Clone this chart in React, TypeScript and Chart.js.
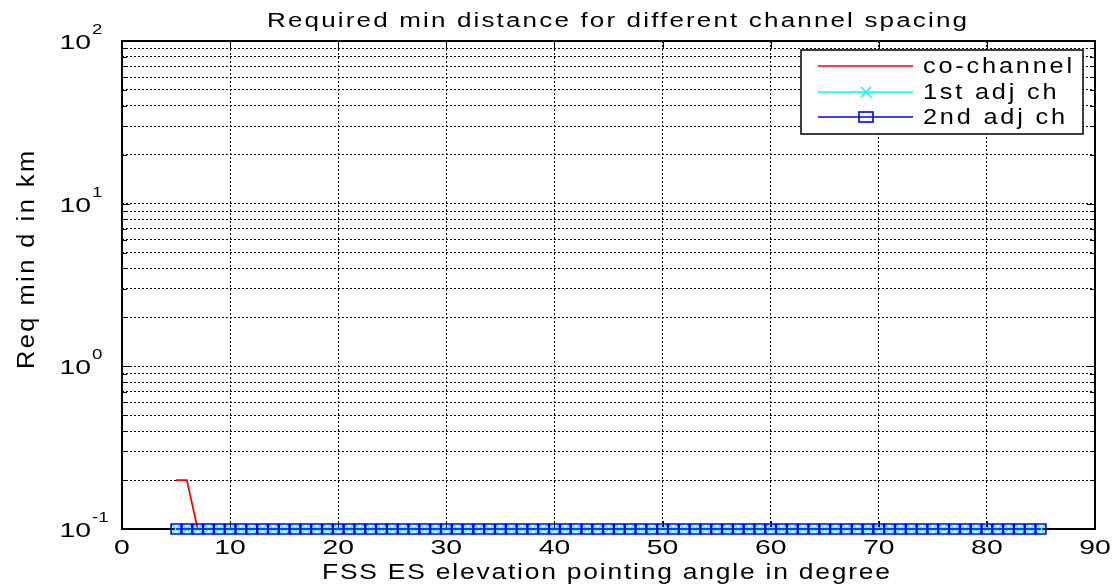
import React, { useEffect, useRef } from "react";
import { Chart, registerables } from "chart.js";

Chart.register(...registerables);

// ---------- data ----------
const elevationAngles = [
  5, 6, 7, 8, 9, 10, 11, 12, 13, 14, 15, 16, 17, 18, 19, 20, 21, 22, 23, 24,
  25, 26, 27, 28, 29, 30, 31, 32, 33, 34, 35, 36, 37, 38, 39, 40, 41, 42, 43, 44,
  45, 46, 47, 48, 49, 50, 51, 52, 53, 54, 55, 56, 57, 58, 59, 60, 61, 62, 63, 64,
  65, 66, 67, 68, 69, 70, 71, 72, 73, 74, 75, 76, 77, 78, 79, 80, 81, 82, 83, 84, 85,
];
const coChannel = [
  0.2, 0.2, 0.1, 0.1, 0.1, 0.1, 0.1, 0.1, 0.1, 0.1, 0.1, 0.1, 0.1, 0.1, 0.1, 0.1, 0.1, 0.1, 0.1, 0.1,
  0.1, 0.1, 0.1, 0.1, 0.1, 0.1, 0.1, 0.1, 0.1, 0.1, 0.1, 0.1, 0.1, 0.1, 0.1, 0.1, 0.1, 0.1, 0.1, 0.1,
  0.1, 0.1, 0.1, 0.1, 0.1, 0.1, 0.1, 0.1, 0.1, 0.1, 0.1, 0.1, 0.1, 0.1, 0.1, 0.1, 0.1, 0.1, 0.1, 0.1,
  0.1, 0.1, 0.1, 0.1, 0.1, 0.1, 0.1, 0.1, 0.1, 0.1, 0.1, 0.1, 0.1, 0.1, 0.1, 0.1, 0.1, 0.1, 0.1, 0.1, 0.1,
];
const firstAdjCh = [
  0.1, 0.1, 0.1, 0.1, 0.1, 0.1, 0.1, 0.1, 0.1, 0.1, 0.1, 0.1, 0.1, 0.1, 0.1, 0.1, 0.1, 0.1, 0.1, 0.1,
  0.1, 0.1, 0.1, 0.1, 0.1, 0.1, 0.1, 0.1, 0.1, 0.1, 0.1, 0.1, 0.1, 0.1, 0.1, 0.1, 0.1, 0.1, 0.1, 0.1,
  0.1, 0.1, 0.1, 0.1, 0.1, 0.1, 0.1, 0.1, 0.1, 0.1, 0.1, 0.1, 0.1, 0.1, 0.1, 0.1, 0.1, 0.1, 0.1, 0.1,
  0.1, 0.1, 0.1, 0.1, 0.1, 0.1, 0.1, 0.1, 0.1, 0.1, 0.1, 0.1, 0.1, 0.1, 0.1, 0.1, 0.1, 0.1, 0.1, 0.1, 0.1,
];
const secondAdjCh = [
  0.1, 0.1, 0.1, 0.1, 0.1, 0.1, 0.1, 0.1, 0.1, 0.1, 0.1, 0.1, 0.1, 0.1, 0.1, 0.1, 0.1, 0.1, 0.1, 0.1,
  0.1, 0.1, 0.1, 0.1, 0.1, 0.1, 0.1, 0.1, 0.1, 0.1, 0.1, 0.1, 0.1, 0.1, 0.1, 0.1, 0.1, 0.1, 0.1, 0.1,
  0.1, 0.1, 0.1, 0.1, 0.1, 0.1, 0.1, 0.1, 0.1, 0.1, 0.1, 0.1, 0.1, 0.1, 0.1, 0.1, 0.1, 0.1, 0.1, 0.1,
  0.1, 0.1, 0.1, 0.1, 0.1, 0.1, 0.1, 0.1, 0.1, 0.1, 0.1, 0.1, 0.1, 0.1, 0.1, 0.1, 0.1, 0.1, 0.1, 0.1, 0.1,
];
const seriesLabels = ["co-channel", "1st adj ch", "2nd adj ch"];

const xTickValues = [0, 10, 20, 30, 40, 50, 60, 70, 80, 90];
const yMajorValues = [0.1, 1, 10, 100];
const yMajorExponents = ["-1", "0", "1", "2"];
const yMinorValues = [
  0.2, 0.3, 0.4, 0.5, 0.6, 0.7, 0.8, 0.9,
  2, 3, 4, 5, 6, 7, 8, 9,
  20, 30, 40, 50, 60, 70, 80, 90,
];

const titleText = "Required min distance for different channel spacing";
const xAxisTitle = "FSS ES elevation pointing angle in degree";
const yAxisTitle = "Req min d in km";

// ---------- styles ----------
const FONT = '"Liberation Sans", Arial, Helvetica, sans-serif';
const RED = "#ff0000";
const CYAN = "#00ffff";
const BLUE = "#0000ff";

function drawStyled(ctx: any, text: string, x: number, y: number, size: number, sx: number, spacing: number, align: string, baseline = "alphabetic") {
  ctx.save();
  ctx.font = `${size}px ${FONT}`;
  ctx.letterSpacing = "0px";
  const natural = ctx.measureText(text).width;
  const w = (natural + spacing * Math.max(text.length - 1, 0)) * sx;
  let left = x;
  if (align === "center") left = x - w / 2;
  else if (align === "right") left = x - w;
  ctx.letterSpacing = `${spacing}px`;
  ctx.textAlign = "left";
  ctx.textBaseline = baseline;
  ctx.translate(left, y);
  ctx.scale(sx, 1);
  ctx.fillStyle = "#000";
  ctx.fillText(text, 0, 0);
  ctx.restore();
}

function fitSpacing(ctx: any, text: string, size: number, sx: number, targetW: number) {
  ctx.save();
  ctx.font = `${size}px ${FONT}`;
  ctx.letterSpacing = "0px";
  const natural = ctx.measureText(text).width;
  ctx.restore();
  return text.length > 1 ? (targetW / sx - natural) / (text.length - 1) : 0;
}

function drawFitted(ctx: any, text: string, x: number, y: number, size: number, sx: number, targetW: number, align: string, baseline = "alphabetic") {
  const sp = fitSpacing(ctx, text, size, sx, targetW);
  drawStyled(ctx, text, x, y, size, sx, sp, align, baseline);
}

const framePlugin = {
  id: "matlabFrame",
  beforeDatasetsDraw(chart: any) {
    const { ctx, chartArea: a, scales } = chart;
    const x = scales.x;
    const y = scales.y;
    ctx.save();
    ctx.strokeStyle = "#000";
    ctx.lineWidth = 1;
    ctx.setLineDash([]);
    ctx.beginPath();
    xTickValues.forEach((v) => {
      const px = Math.round(x.getPixelForValue(v)) + 0.5;
      ctx.moveTo(px, a.bottom);
      ctx.lineTo(px, a.bottom - 8);
      ctx.moveTo(px, a.top);
      ctx.lineTo(px, a.top + 8);
    });
    yMajorValues.forEach((v) => {
      const py = Math.round(y.getPixelForValue(v)) + 0.5;
      ctx.moveTo(a.left, py);
      ctx.lineTo(a.left + 8, py);
      ctx.moveTo(a.right, py);
      ctx.lineTo(a.right - 8, py);
    });
    yMinorValues.forEach((v) => {
      const py = Math.round(y.getPixelForValue(v)) + 0.5;
      ctx.moveTo(a.left, py);
      ctx.lineTo(a.left + 5, py);
      ctx.moveTo(a.right, py);
      ctx.lineTo(a.right - 5, py);
    });
    ctx.stroke();
    ctx.lineWidth = 2;
    ctx.strokeRect(a.left, a.top, a.right - a.left, a.bottom - a.top);
    ctx.restore();
  },
  afterDraw(chart: any) {
    const { ctx, chartArea: a, scales } = chart;
    const x = scales.x;
    const y = scales.y;
    // title
    drawFitted(ctx, titleText, 617, 27, 20, 1.3, 700, "center");
    // x tick labels
    xTickValues.forEach((v) => {
      drawStyled(ctx, String(v), x.getPixelForValue(v), a.bottom + 25, 21, 1.35, 0, "center");
    });
    // y tick labels
    yMajorValues.forEach((v, i) => {
      const py = y.getPixelForValue(v);
      drawStyled(ctx, "10", a.left - 31, py + 8, 21, 1.35, 0, "right");
      drawStyled(ctx, yMajorExponents[i], a.left - 30, py - 7, 15, 1.25, 0, "left");
    });
    // x axis title
    drawFitted(ctx, xAxisTitle, 606, 579, 22, 1.2, 568, "center");
    // y axis title
    ctx.save();
    ctx.translate(28, 260);
    ctx.rotate(-Math.PI / 2);
    drawFitted(ctx, yAxisTitle, 0, 0, 23, 1.1, 218, "center", "middle");
    ctx.restore();

    // legend
    const bw = 282;
    const bh = 84;
    const bx = a.right - 12 - bw;
    const by = a.top + 9;
    ctx.save();
    ctx.fillStyle = "#fff";
    ctx.fillRect(bx, by, bw, bh);
    ctx.strokeStyle = "#000";
    ctx.lineWidth = 1.5;
    ctx.setLineDash([]);
    ctx.strokeRect(bx, by, bw, bh);
    ctx.restore();
    const rows = [16, 42, 67];
    const colors = [RED, CYAN, BLUE];
    const legSp = fitSpacing(ctx, seriesLabels[0], 22, 1.15, 149);
    seriesLabels.forEach((lab, i) => {
      const ry = by + rows[i];
      ctx.save();
      ctx.strokeStyle = colors[i];
      ctx.lineWidth = i === 0 ? 1.5 : 1.6;
      ctx.beginPath();
      ctx.moveTo(bx + 17, ry);
      ctx.lineTo(bx + 112, ry);
      ctx.stroke();
      const mx = bx + 65;
      if (i === 1) {
        ctx.beginPath();
        ctx.moveTo(mx - 5, ry - 5);
        ctx.lineTo(mx + 5, ry + 5);
        ctx.moveTo(mx - 5, ry + 5);
        ctx.lineTo(mx + 5, ry - 5);
        ctx.stroke();
      } else if (i === 2) {
        ctx.strokeRect(mx - 7, ry - 5, 14, 10);
      }
      ctx.restore();
      drawStyled(ctx, lab, bx + 122, ry + 7, 22, 1.15, legSp, "left");
    });
  },
};

export default function App() {
  const canvasRef = useRef<HTMLCanvasElement | null>(null);

  useEffect(() => {
    const canvas = canvasRef.current;
    if (!canvas) return;
    const toPts = (vals: number[]) => elevationAngles.map((a, i) => ({ x: a, y: vals[i] }));
    const chart = new Chart(canvas, {
      type: "line",
      data: {
        datasets: [
          {
            label: seriesLabels[0],
            data: toPts(coChannel),
            borderColor: RED,
            borderWidth: 1.8,
            pointRadius: 0,
            pointHoverRadius: 0,
            clip: false as any,
            order: 3,
          },
          {
            label: seriesLabels[1],
            data: toPts(firstAdjCh),
            borderColor: CYAN,
            borderWidth: 1.8,
            pointStyle: "crossRot",
            pointRadius: 6,
            pointBorderColor: CYAN,
            pointBorderWidth: 1.5,
            clip: false as any,
            order: 2,
          },
          {
            label: seriesLabels[2],
            data: toPts(secondAdjCh),
            borderColor: BLUE,
            borderWidth: 1.6,
            pointStyle: "rect",
            pointRadius: 7,
            pointBackgroundColor: "rgba(0,0,0,0)",
            pointBorderColor: BLUE,
            pointBorderWidth: 1.6,
            clip: false as any,
            order: 1,
          },
        ],
      },
      options: {
        responsive: false,
        animation: false,
        events: [],
        layout: { padding: { top: 41, right: 21, left: 0, bottom: 0 } },
        plugins: {
          legend: { display: false },
          title: { display: false },
          tooltip: { enabled: false },
        },
        scales: {
          x: {
            type: "linear",
            min: 0,
            max: 90,
            afterBuildTicks: (s: any) => {
              s.ticks = xTickValues.map((v) => ({ value: v }));
            },
            afterFit: (s: any) => {
              s.height = 55;
            },
            ticks: { display: false },
            grid: { color: "#000", lineWidth: 1, drawTicks: false, tickLength: 0 },
            border: { display: false, dash: [2, 2] },
          },
          y: {
            type: "logarithmic",
            min: 0.1,
            max: 100,
            afterBuildTicks: (s: any) => {
              s.ticks = [...yMajorValues, ...yMinorValues]
                .sort((p, q) => p - q)
                .map((v) => ({ value: v }));
            },
            afterFit: (s: any) => {
              s.width = 122;
            },
            ticks: { display: false },
            grid: { color: "#000", lineWidth: 1, drawTicks: false, tickLength: 0 },
            border: { display: false, dash: [2, 2] },
          },
        },
      },
      plugins: [framePlugin],
    } as any);
    return () => chart.destroy();
  }, []);

  return (
    <div style={{ position: "fixed", left: 0, top: 0, width: 1116, height: 584, background: "#fff" }}>
      <canvas ref={canvasRef} width={1116} height={584} />
    </div>
  );
}
